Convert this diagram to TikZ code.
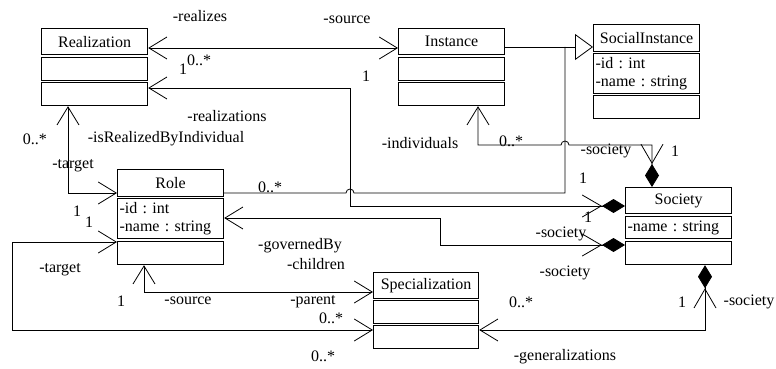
\documentclass[tikz,border=0pt]{standalone}
\usepackage{fontspec}
\setmainfont{Liberation Serif}
\usetikzlibrary{arrows.meta,calc}
\frenchspacing
\begin{document}
\begin{tikzpicture}[x=1pt,y=-1pt,line width=0.8pt,
  every node/.style={font=\fontsize{16}{17.5}\selectfont\frenchspacing,inner sep=0pt},
  cbox/.style={draw,line width=1.2pt,minimum width=106pt,anchor=north west},
  abox/.style={cbox,text width=102pt,align=left,inner xsep=2pt},
  lbl/.style={anchor=center},
  va/.tip={Straight Barb[length=18pt,width=22pt,line width=0.8pt]},
  nav/.style={{va}-{va}},
  comp/.style={{va}-{Straight Barb[length=19pt,width=22pt,line width=0.8pt] Diamond[length=23pt,width=14pt,line width=0.8pt]}},
  gen/.style={-{Triangle[open,length=18pt,width=26pt,fill=white,line width=0.8pt]}}
]
\useasboundingbox (0,0) rectangle (776,369);
% Realization
\node[cbox,minimum height=26pt] (real) at (41,28) {Realization};
\node[cbox,minimum height=23pt] (real2) at (41,57) {};
\node[cbox,minimum height=23pt] (real3) at (41,82) {};
% Instance
\node[cbox,minimum height=26pt] (inst) at (398,28) {Instance};
\node[cbox,minimum height=23pt] (inst2) at (398,57) {};
\node[cbox,minimum height=23pt] (inst3) at (398,82) {};
% SocialInstance
\node[cbox,minimum height=27pt] (sinst) at (593,24) {SocialInstance};
\node[abox,minimum height=40pt] (sinst2) at (593,53) {-id : int\\-name : string};
\node[cbox,minimum height=23pt] (sinst3) at (593,95) {};
% Role
\node[cbox,minimum height=27pt] (role) at (117,169) {Role};
\node[abox,minimum height=40pt] (role2) at (117,198) {-id : int\\-name : string};
\node[cbox,minimum height=23pt] (role3) at (117,241) {};
% Society
\node[cbox,minimum height=26pt] (soc) at (625,187) {Society};
\node[abox,minimum height=22pt] (soc2) at (625,216) {-name : string};
\node[cbox,minimum height=23pt] (soc3) at (625,241) {};
% Specialization
\node[cbox,minimum width=105pt,minimum height=26pt] (spec) at (373,272) {Specialization};
\node[cbox,minimum width=105pt,minimum height=23pt] (spec2) at (373,300) {};
\node[cbox,minimum width=105pt,minimum height=23pt] (spec3) at (373,325) {};

\coordinate (jg) at (565,47);
% connectors
\draw[nav] (real.east |- 0,48) -- (inst.west |- 0,48);
\draw[gen] (inst.east |- 0,47) -- (sinst.west |- 0,47);
\draw (role.east |- 0,193) -- (346,193) arc[start angle=180,end angle=0,radius=4pt] -- (565,193) -- (jg);
\draw[comp] (real3.east |- 0,88) -- (350,88) -- (350,206) -- (soc.west |- 0,206);
\draw[comp] (inst3.south -| 478,0) -- (478,145) -- (561,145) arc[start angle=180,end angle=0,radius=4pt] -- (652,145) -- (soc.north -| 652,0);
\draw[comp] (role2.east |- 0,218) -- (440,218) -- (440,245) -- (soc3.west |- 0,245);
\draw[nav] (real3.south -| 68,0) -- (68,193) -- (role.west |- 0,193);
\draw[nav] (role3.west |- 0,242) -- (12,242) -- (12,330) -- (spec3.west |- 0,330);
\draw[nav] (role3.south -| 144,0) -- (144,292) -- (spec.west |- 0,292);
\draw[comp] (spec3.east |- 0,330) -- (705,330) -- (soc3.south -| 705,0);

% labels
\node[lbl] (t1) at (200,16) {-realizes};
\node[lbl] (t2) at (347,20) {-source};
\node[lbl] (t3) at (366,76) {1};
\node[lbl] (t4) at (183,69) {1};
\node[lbl] (t5) at (199,60) {0..*};
\node[lbl] (t6) at (227,116) {-realizations};
\node[lbl] (t7) at (35,139) {0..*};
\node[lbl] (t8) at (166,139) {-isRealizedByIndividual};
\node[lbl] (t9) at (73,166) {-target};
\node[lbl] (t10) at (420,143) {-individuals};
\node[lbl] (t11) at (511,141) {0..*};
\node[lbl] (t12) at (606,151) {-society};
\node[lbl] (t13) at (675,151) {1};
\node[lbl] (t14) at (583,178) {1};
\node[lbl] (t15) at (588,217) {1};
\node[lbl] (t16) at (561,234) {-society};
\node[lbl] (t17) at (565,273) {-society};
\node[lbl] (t18) at (270,187) {0..*};
\node[lbl] (t19) at (77,211) {1};
\node[lbl] (t20) at (89,222) {1};
\node[lbl] (t21) at (300,246) {-governedBy};
\node[lbl] (t22) at (316,264) {-children};
\node[lbl] (t23) at (60,270) {-target};
\node[lbl] (t24) at (121,301) {1};
\node[lbl] (t25) at (188,301) {-source};
\node[lbl] (t26) at (313,302) {-parent};
\node[lbl] (t27) at (331,318) {0..*};
\node[lbl] (t28) at (323,356) {0..*};
\node[lbl] (t29) at (521,302) {0..*};
\node[lbl] (t30) at (682,302) {1};
\node[lbl] (t31) at (749,302) {-society};
\node[lbl] (t32) at (565,357) {-generalizations};
\end{tikzpicture}
\end{document}
